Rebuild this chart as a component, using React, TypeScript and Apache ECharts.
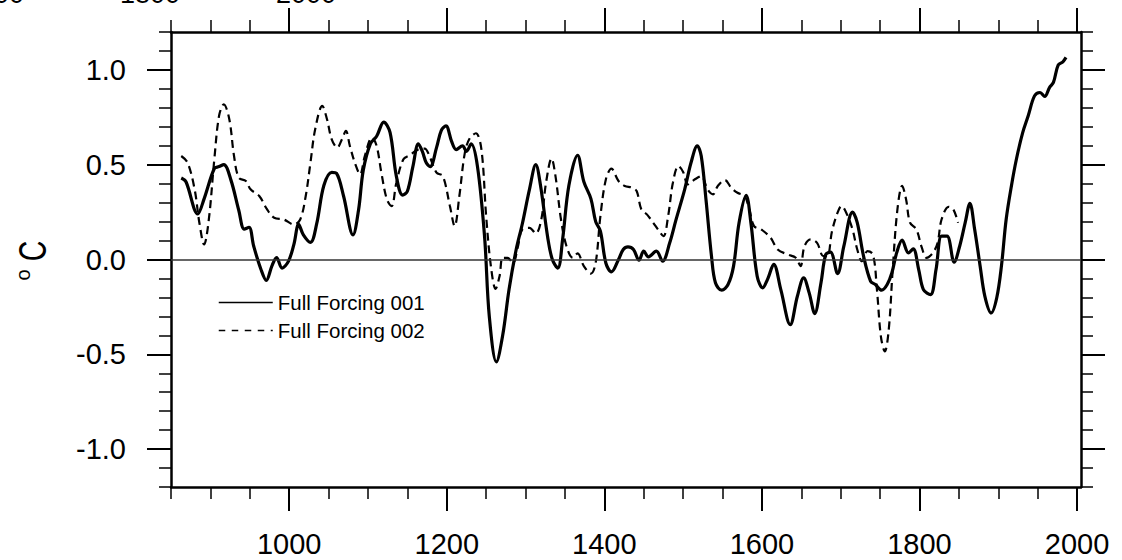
import { useEffect, useRef } from 'react';
import * as echarts from 'echarts';

// ---- data ----
const seriesNames = ['Full Forcing 001', 'Full Forcing 002'];

const years001 = [863, 869, 884, 892, 905, 911, 917, 926, 936, 943, 949, 955, 964, 971, 978, 984, 991, 999,
  1006, 1012, 1018, 1027, 1035, 1044, 1054, 1060, 1069, 1081, 1088, 1094, 1103, 1111, 1120, 1128, 1136, 1144,
  1150, 1157, 1164, 1169, 1174, 1179, 1187, 1193, 1199, 1206, 1212, 1220, 1225, 1231, 1239, 1248, 1254, 1263,
  1271, 1279, 1288, 1296, 1305, 1313, 1319, 1328, 1334, 1341, 1347, 1355, 1366, 1374, 1383, 1389, 1395, 1402,
  1409, 1418, 1424, 1430, 1437, 1444, 1450, 1456, 1466, 1474, 1483, 1491, 1502, 1510, 1518, 1523, 1529, 1536,
  1541, 1549, 1557, 1564, 1571, 1580, 1586, 1594, 1601, 1607, 1615, 1624, 1636, 1645, 1653, 1660, 1667, 1675,
  1681, 1687, 1696, 1704, 1715, 1721, 1729, 1738, 1744, 1752, 1759, 1765, 1771, 1778, 1786, 1792, 1799, 1805,
  1814, 1821, 1828, 1835, 1844, 1851, 1858, 1864, 1870, 1877, 1883, 1891, 1898, 1904, 1910, 1917, 1923, 1931,
  1938, 1946, 1953, 1959, 1965, 1970, 1976, 1982, 1986];
const temps001 = [0.43, 0.41, 0.24, 0.32, 0.48, 0.49, 0.50, 0.42, 0.26, 0.16, 0.17, 0.07, -0.05, -0.11, -0.035, 0.01, -0.045, -0.01,
  0.08, 0.185, 0.13, 0.09, 0.19, 0.39, 0.46, 0.455, 0.335, 0.13, 0.26, 0.47, 0.61, 0.65, 0.725, 0.67, 0.44, 0.34,
  0.36, 0.49, 0.61, 0.57, 0.51, 0.49, 0.59, 0.68, 0.705, 0.625, 0.58, 0.60, 0.57, 0.61, 0.49, 0.12, -0.30, -0.54,
  -0.40, -0.16, 0.05, 0.19, 0.37, 0.50, 0.39, 0.12, 0.0, -0.045, 0.105, 0.39, 0.55, 0.41, 0.32, 0.20, 0.15, -0.02,
  -0.065, 0.0, 0.053, 0.067, 0.053, -0.004, 0.044, 0.014, 0.044, -0.009, 0.088, 0.21, 0.37, 0.51, 0.60, 0.546, 0.317, 0.018,
  -0.123, -0.162, -0.132, -0.035, 0.194, 0.338, 0.194, -0.088, -0.15, -0.106, -0.026, -0.159, -0.344, -0.194, -0.097, -0.176, -0.285, -0.123,
  0.026, 0.039, -0.074, 0.07, 0.25, 0.194, 0.018, -0.115, -0.132, -0.162, -0.132, -0.07, 0.035, 0.102, 0.035, 0.056, -0.053, -0.159,
  -0.185, -0.053, 0.123, 0.123, -0.014, 0.07, 0.194, 0.296, 0.159, -0.035, -0.194, -0.282, -0.203, -0.035, 0.211, 0.396, 0.529, 0.669,
  0.758, 0.863, 0.881, 0.86, 0.907, 0.934, 1.025, 1.043, 1.066];

const years002 = [863, 871, 880, 886, 892, 898, 905, 911, 917, 924, 930, 936, 945, 951, 962, 972, 981, 993,
  1006, 1014, 1021, 1027, 1033, 1042, 1048, 1054, 1061, 1067, 1072, 1077, 1084, 1090, 1096, 1105, 1111, 1117,
  1124, 1130, 1136, 1145, 1153, 1164, 1172, 1178, 1187, 1195, 1204, 1210, 1216, 1223, 1229, 1237, 1244, 1250,
  1256, 1262, 1267, 1271, 1277, 1284, 1290, 1296, 1305, 1313, 1320, 1326, 1333, 1338, 1345, 1352, 1360, 1366,
  1374, 1383, 1389, 1395, 1402, 1409, 1418, 1426, 1435, 1441, 1447, 1454, 1462, 1468, 1475, 1481, 1487, 1494,
  1500, 1506, 1515, 1523, 1531, 1538, 1544, 1553, 1561, 1569, 1578, 1584, 1590, 1599, 1611, 1620, 1633, 1643,
  1649, 1654, 1662, 1670, 1678, 1683, 1689, 1696, 1701, 1708, 1715, 1721, 1727, 1734, 1741, 1746, 1751, 1756,
  1761, 1766, 1772, 1778, 1783, 1788, 1796, 1803, 1809, 1817, 1823, 1828, 1837, 1843, 1849];
const temps002 = [0.546, 0.511, 0.37, 0.194, 0.079, 0.211, 0.529, 0.758, 0.819, 0.74, 0.546, 0.432, 0.414, 0.37, 0.335, 0.264, 0.22, 0.211,
  0.185, 0.211, 0.335, 0.511, 0.687, 0.81, 0.74, 0.634, 0.59, 0.634, 0.678, 0.599, 0.502, 0.449, 0.546, 0.643, 0.599, 0.458,
  0.317, 0.282, 0.405, 0.529, 0.55, 0.581, 0.585, 0.546, 0.458, 0.44, 0.282, 0.176, 0.335, 0.564, 0.638, 0.666, 0.581, 0.229,
  -0.035, -0.155, -0.088, 0.009, 0.009, -0.018, 0.062, 0.159, 0.167, 0.137, 0.211, 0.405, 0.532, 0.44, 0.211, 0.07, 0.009, 0.032,
  -0.035, -0.074, -0.018, 0.229, 0.423, 0.479, 0.414, 0.388, 0.379, 0.361, 0.264, 0.238, 0.194, 0.159, 0.123, 0.229, 0.405, 0.493,
  0.462, 0.396, 0.423, 0.44, 0.37, 0.344, 0.388, 0.419, 0.379, 0.352, 0.335, 0.264, 0.176, 0.159, 0.115, 0.053, 0.026, 0.009,
  -0.035, 0.07, 0.106, 0.088, 0.018, 0.018, 0.15, 0.247, 0.282, 0.238, 0.159, 0.053, -0.009, 0.044, 0.026, -0.159, -0.405, -0.485,
  -0.37, -0.053, 0.264, 0.388, 0.317, 0.194, 0.159, 0.062, 0.009, 0.035, 0.088, 0.211, 0.278, 0.264, 0.194];

const xMajorTicks = [1000, 1200, 1400, 1600, 1800, 2000];
const xMinorTicks = [850, 900, 950, 1050, 1100, 1150, 1250, 1300, 1350, 1450, 1500, 1550, 1650, 1700, 1750, 1850, 1900, 1950];
const yMajorTicks = [-1.0, -0.5, 0.0, 0.5, 1.0];
const yMinorTicks = [-1.2, -1.1, -0.9, -0.8, -0.7, -0.6, -0.4, -0.3, -0.2, -0.1, 0.1, 0.2, 0.3, 0.4, 0.6, 0.7, 0.8, 0.9, 1.1, 1.2];
const xRange = [850, 2005];
const yRange = [-1.2, 1.2];
const yUnitSup = 'o';
const yUnit = 'C';
const topRemnantLabels = ['1600', '1800', '2000'];

// ---- styling ----
const FONT = '"Liberation Sans", Arial, Helvetica, sans-serif';
const GRID = { left: 171, top: 32, right: 41, bottom: 73 };

function xAxis(gridIndex: number, position: string, ticks: number[], len: number, width: number, showLine: boolean, labels: boolean) {
  return {
    type: 'value', gridIndex, position, min: xRange[0], max: xRange[1],
    axisLine: { show: showLine, onZero: false, lineStyle: { color: '#000', width: 2.5 } },
    axisTick: { show: true, inside: false, customValues: ticks, length: len, lineStyle: { color: '#000', width } },
    axisLabel: labels
      ? { show: true, customValues: ticks, margin: 42, fontSize: 29, fontFamily: FONT, color: '#000', formatter: (v: number) => String(v) }
      : { show: false },
    splitLine: { show: false }, minorTick: { show: false }, minorSplitLine: { show: false },
  };
}
function yAxis(gridIndex: number, position: string, ticks: number[], len: number, width: number, showLine: boolean, labels: boolean) {
  return {
    type: 'value', gridIndex, position, min: yRange[0], max: yRange[1],
    axisLine: { show: showLine, onZero: false, lineStyle: { color: '#000', width: 2.5 } },
    axisTick: { show: true, inside: false, customValues: ticks, length: len, lineStyle: { color: '#000', width } },
    axisLabel: labels
      ? { show: true, customValues: ticks, margin: 45, fontSize: 29, fontFamily: FONT, color: '#000', formatter: (v: number) => v.toFixed(1) }
      : { show: false },
    splitLine: { show: false }, minorTick: { show: false }, minorSplitLine: { show: false },
  };
}

export default function App() {
  const ref = useRef<HTMLDivElement>(null);
  useEffect(() => {
    if (!ref.current) return;
    const chart = echarts.init(ref.current, null, { renderer: 'svg' });
    const option: any = {
      animation: false,
      backgroundColor: '#fff',
      grid: [
        { ...GRID, outerBoundsMode: 'none' },
        { ...GRID, outerBoundsMode: 'none' },
      ],
      xAxis: [
        xAxis(0, 'bottom', xMajorTicks, 24, 2, true, true),
        xAxis(0, 'top', xMajorTicks, 24, 2, true, false),
        xAxis(1, 'bottom', xMinorTicks, 12, 1.5, false, false),
        xAxis(1, 'top', xMinorTicks, 12, 1.5, false, false),
      ],
      yAxis: [
        yAxis(0, 'left', yMajorTicks, 24, 2, true, true),
        yAxis(0, 'right', yMajorTicks, 24, 2, true, false),
        yAxis(1, 'left', yMinorTicks, 12, 1.5, false, false),
        yAxis(1, 'right', yMinorTicks, 12, 1.5, false, false),
      ],
      legend: {
        orient: 'vertical', left: 218, top: 292, padding: 0,
        itemWidth: 54, itemHeight: 20, itemGap: 7,
        selectedMode: false,
        textStyle: { fontSize: 20.5, fontFamily: FONT, color: '#000' },
        data: [
          { name: seriesNames[0], itemStyle: { opacity: 0 }, lineStyle: { width: 1.5, type: 'solid', color: '#000' } },
          { name: seriesNames[1], itemStyle: { opacity: 0 }, lineStyle: { width: 1.5, type: [6.5, 6.5], color: '#000' } },
        ],
      },
      series: [
        {
          name: seriesNames[0], type: 'line', xAxisIndex: 0, yAxisIndex: 0,
          data: years001.map((y, i) => [y, temps001[i]]),
          symbol: 'none', smooth: 0.35,
          lineStyle: { color: '#000', width: 3.2, type: 'solid' },
          itemStyle: { color: '#000' },
          emphasis: { disabled: true },
          markLine: {
            silent: true, symbol: ['none', 'none'], label: { show: false },
            lineStyle: { color: '#333', width: 1.5, type: 'solid' },
            emphasis: { disabled: true },
            data: [{ yAxis: 0 }],
          },
        },
        {
          name: seriesNames[1], type: 'line', xAxisIndex: 0, yAxisIndex: 0,
          data: years002.map((y, i) => [y, temps002[i]]),
          symbol: 'none', smooth: 0.35,
          lineStyle: { color: '#000', width: 2.2, type: [8, 5] },
          itemStyle: { color: '#000' },
          emphasis: { disabled: true },
        },
      ],
      graphic: [
        {
          type: 'text', x: 33, y: 251, rotation: Math.PI / 2, scaleX: 0.75,
          style: { text: yUnit, fontSize: 38, fontFamily: FONT, fill: '#000', align: 'center', verticalAlign: 'middle' },
        },
        {
          type: 'text', x: 22.5, y: 275, rotation: Math.PI / 2,
          style: { text: yUnitSup, fontSize: 20, fontFamily: FONT, fill: '#000', align: 'center', verticalAlign: 'middle' },
        },
        ...topRemnantLabels.map((t, i) => ({
          type: 'text', x: -6 + i * 156, y: -6,
          style: { text: t, fontSize: 27, fontFamily: FONT, fill: '#000', align: 'center', verticalAlign: 'middle' },
        })),
      ],
    };
    chart.setOption(option);
    return () => chart.dispose();
  }, []);
  return <div ref={ref} style={{ position: 'fixed', left: 0, top: 0, width: 1122, height: 560, background: '#fff' }} />;
}
